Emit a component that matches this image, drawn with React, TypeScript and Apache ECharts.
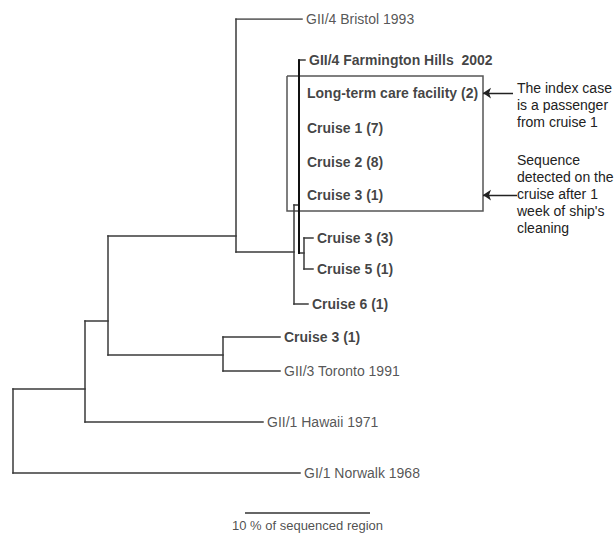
import React, { useEffect, useRef } from "react";
import * as echarts from "echarts";

// ---- Tree data (x = divergence from root in % of sequenced region, row = vertical leaf position) ----
const leafNames = [
  "GII/4 Bristol 1993",
  "GII/4 Farmington Hills  2002",
  "Long-term care facility (2)",
  "Cruise 1 (7)",
  "Cruise 2 (8)",
  "Cruise 3 (1)",
  "Cruise 3 (3)",
  "Cruise 5 (1)",
  "Cruise 6 (1)",
  "Cruise 3 (1)",
  "GII/3 Toronto 1991",
  "GII/1 Hawaii 1971",
  "GI/1 Norwalk 1968",
];
const leafDepth = [23.12, 23.36, 22.88, 22.88, 22.88, 22.88, 24.0, 24.0, 23.6, 21.36, 21.36, 20.0, 22.96];
const leafRow = [0, 1.21, 2.18, 3.2, 4.2, 5.18, 6.44, 7.35, 8.38, 9.35, 10.35, 11.85, 13.35];
const leafBold = [false, true, true, true, true, true, true, true, true, true, false, false, false];
const leafParent = ["D", "F", "F", "F", "F", "F", "G", "G", "E", "C", "C", "A", "root"];

const nodeIds = ["root", "A", "B", "C", "D", "E", "F", "G"];
const nodeDepth = [0, 5.76, 7.6, 16.8, 17.84, 22.48, 22.88, 23.28];
const nodeRow = [12, 10.88, 8.88, 9.88, 6.38, 6.85, 5.47, 6.88];
const nodeParent = [null, "root", "A", "B", "B", "D", "E", "F"];

// highlighted outbreak cluster box (x range, row range)
const boxDepth = [21.92, 37.6];
const boxRow = [1.68, 5.65];

// annotations: arrow tail depth, pointed leaf index, text
const noteTail = [40.0, 40.32];
const noteLeaf = [2, 5];
const noteText = [
  "The index case\nis a passenger\nfrom cruise 1",
  "Sequence\ndetected on the\ncruise after 1\nweek of ship's\ncleaning",
];

// scale bar
const scaleStart = 18.56;
const scaleLength = 10;
const scaleRow = 14.53;
const scaleLabel = "10 % of sequenced region";

const FONT = "'Liberation Sans', Arial, Helvetica, sans-serif";

export default function App() {
  const ref = useRef<HTMLDivElement>(null);
  useEffect(() => {
    const chart = echarts.init(ref.current!, null, { renderer: "svg" });

    const depthOf: Record<string, number> = {};
    const rowOf: Record<string, number> = {};
    const parentOf: Record<string, string | null> = {};
    nodeIds.forEach((id, i) => {
      depthOf[id] = nodeDepth[i];
      rowOf[id] = nodeRow[i];
      parentOf[id] = nodeParent[i];
    });
    const leafIds = leafNames.map((_, i) => "L" + i);
    leafIds.forEach((id, i) => {
      depthOf[id] = leafDepth[i];
      rowOf[id] = leafRow[i];
      parentOf[id] = leafParent[i];
    });
    const allIds = [...nodeIds, ...leafIds];

    const segs: any[] = [];
    allIds.forEach((id) => {
      const p = parentOf[id];
      if (!p) return;
      if (depthOf[id] - depthOf[p] > 1e-6) {
        segs.push({ coords: [[depthOf[p], rowOf[id]], [depthOf[id], rowOf[id]]] });
      }
    });
    nodeIds.forEach((id) => {
      const kids = allIds.filter((k) => parentOf[k] === id).map((k) => rowOf[k]);
      const lo = Math.min(...kids);
      const hi = Math.max(...kids);
      const item: any = { coords: [[depthOf[id], lo], [depthOf[id], hi]] };
      if (id === "F") item.lineStyle = { color: "#111", width: 2, opacity: 1 };
      segs.push(item);
    });

    const labelData = leafNames.map((name, i) => {
      const zero = Math.abs(leafDepth[i] - depthOf[leafParent[i]]) < 1e-6;
      return {
        name,
        value: [leafDepth[i], leafRow[i]],
        label: {
          fontWeight: leafBold[i] ? "bold" : "normal",
          color: leafBold[i] ? "#111" : "#2a2a2a",
          distance: zero ? 8 : 4,
        },
      };
    });

    const boxCoords = [
      [boxDepth[0], boxRow[0]],
      [boxDepth[1], boxRow[0]],
      [boxDepth[1], boxRow[1]],
      [boxDepth[0], boxRow[1]],
      [boxDepth[0], boxRow[0]],
    ];

    const arrowData = noteLeaf.map((li, i) => ({
      coords: [[noteTail[i], leafRow[li]], [boxDepth[1], leafRow[li]]],
    }));

    const option: any = {
      animation: false,
      backgroundColor: "#fff",
      grid: { left: 13, top: 19, width: 600, height: 510 },
      xAxis: { type: "value", min: 0, max: 48, show: false },
      yAxis: { type: "value", min: 0, max: 15, inverse: true, show: false },
      series: [
        {
          type: "lines",
          coordinateSystem: "cartesian2d",
          silent: true,
          symbol: "none",
          lineStyle: { color: "#3a3a3a", width: 1.5, opacity: 1, cap: "square" },
          data: segs,
          z: 3,
        },
        {
          type: "lines",
          coordinateSystem: "cartesian2d",
          polyline: true,
          silent: true,
          symbol: "none",
          lineStyle: { color: "#555", width: 1.5, opacity: 1 },
          data: [{ coords: boxCoords }],
          z: 2,
        },
        {
          type: "lines",
          coordinateSystem: "cartesian2d",
          silent: true,
          symbol: ["none", "arrow"],
          symbolSize: 8,
          lineStyle: { color: "#222", width: 1.3, opacity: 1 },
          data: arrowData,
          z: 3,
        },
        {
          type: "lines",
          coordinateSystem: "cartesian2d",
          silent: true,
          symbol: "none",
          lineStyle: { color: "#333", width: 1.5, opacity: 1 },
          data: [{ coords: [[scaleStart, scaleRow], [scaleStart + scaleLength, scaleRow]] }],
          z: 3,
        },
        {
          type: "scatter",
          silent: true,
          symbolSize: 0,
          data: [{ name: scaleLabel, value: [scaleStart + scaleLength / 2, scaleRow] }],
          label: {
            show: true,
            position: "bottom",
            distance: 6,
            formatter: "{b}",
            fontFamily: FONT,
            fontSize: 13,
            color: "#222",
          },
        },
        {
          type: "scatter",
          silent: true,
          symbolSize: 0,
          data: labelData,
          label: {
            show: true,
            position: "right",
            formatter: "{b}",
            fontFamily: FONT,
            fontSize: 14,
          },
          z: 4,
        },
      ],
      graphic: noteText.map((t, i) => ({
        type: "text",
        left: 517,
        top: i === 0 ? 79 : 151,
        style: {
          text: t,
          fontFamily: FONT,
          fontSize: 14,
          lineHeight: 17,
          fill: "#222",
        },
      })),
    };
    chart.setOption(option);
    return () => chart.dispose();
  }, []);
  return (
    <div
      ref={ref}
      style={{ position: "fixed", left: 0, top: 0, width: 616, height: 536, background: "#fff" }}
    />
  );
}
